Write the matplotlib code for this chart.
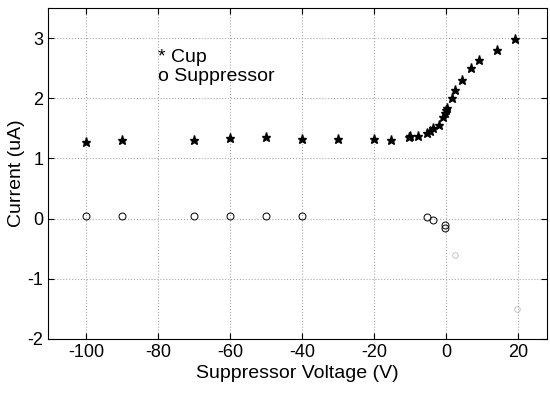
import matplotlib
matplotlib.use("Agg")
import matplotlib.pyplot as plt

plt.rcParams['font.family'] = ['Liberation Sans', 'DejaVu Sans']
plt.rcParams['axes.unicode_minus'] = False

# Cup current vs suppressor voltage
cup_v = [-100, -90, -70, -60, -50, -40, -30, -20, -15.3, -10.3, -10, -7.8,
         -5.3, -4.5, -3.6, -2, -0.8, -0.3, 0, 0.3, 1.6, 2.5, 4.4, 6.9, 9.2, 14.2, 19.2]
cup_i = [1.28, 1.31, 1.31, 1.34, 1.35, 1.33, 1.33, 1.33, 1.30, 1.35, 1.38, 1.38,
         1.43, 1.45, 1.50, 1.55, 1.69, 1.75, 1.80, 1.83, 2.00, 2.13, 2.30, 2.50, 2.64, 2.80, 2.98]

# Suppressor current
sup_v = [-100, -90, -70, -60, -50, -40, -5.3, -3.6, -0.3, -0.3]
sup_i = [0.05, 0.05, 0.05, 0.05, 0.05, 0.05, 0.02, -0.02, -0.10, -0.15]
# faint points (barely visible in the scan)
sup_v_faint = [2.5, 19.7]
sup_i_faint = [-0.6, -1.5]

fig = plt.figure(figsize=(5.5, 3.96), dpi=100)
ax = fig.add_axes([0.088, 0.144, 0.906, 0.836])

ax.plot(cup_v, cup_i, '*', color='black', markersize=6.5, linestyle='none')
ax.plot(sup_v, sup_i, 'o', mfc='none', mec='black', markersize=5, mew=0.7, linestyle='none')
ax.plot(sup_v_faint, sup_i_faint, 'o', mfc='none', mec='#bbbbbb', markersize=4, mew=0.6, linestyle='none')

ax.set_xlim(-110.5, 28)
ax.set_ylim(-2, 3.5)
ax.set_xticks([-100, -80, -60, -40, -20, 0, 20])
ax.set_yticks([-2, -1, 0, 1, 2, 3])
ax.grid(True, linestyle=':', color='#aaaaaa', linewidth=0.8)
ax.tick_params(direction='in', labelsize=13, length=4, top=True, right=True)
ax.set_xlabel('Suppressor Voltage (V)', fontsize=14, labelpad=3)
ax.set_ylabel('Current (uA)', fontsize=14, labelpad=2)

ax.text(-80, 2.68, '* Cup', fontsize=14, va='center')
ax.text(-80, 2.36, 'o Suppressor', fontsize=14, va='center')

fig.savefig('out.png', dpi=100)
